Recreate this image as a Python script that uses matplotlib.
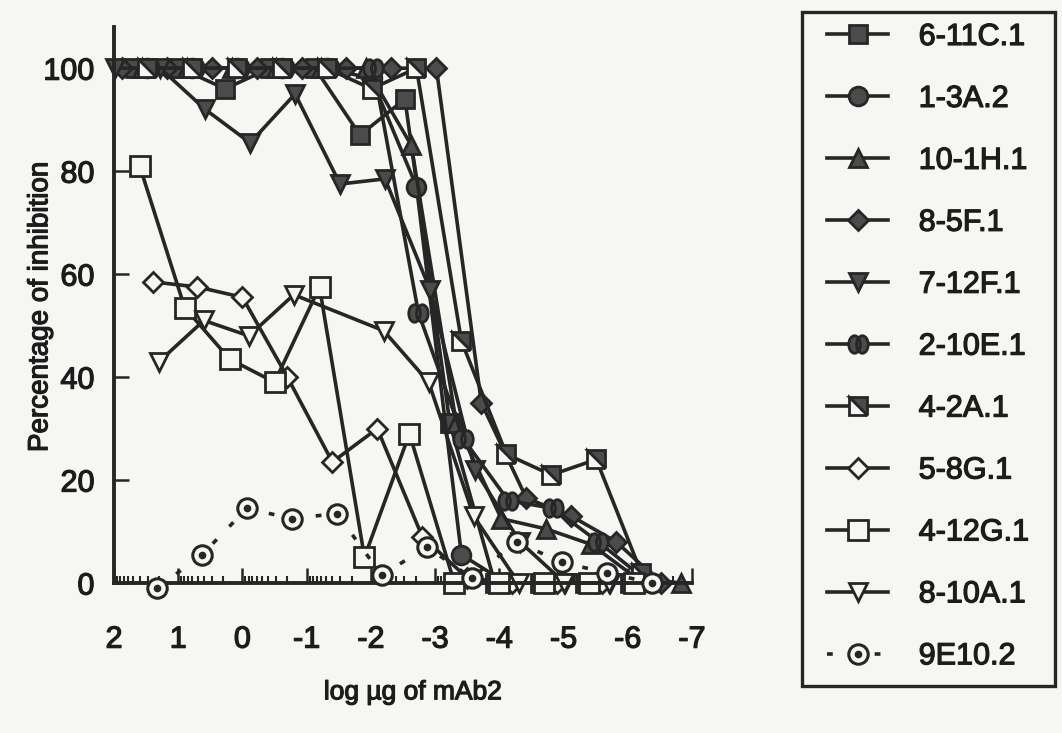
import numpy as np
import matplotlib
matplotlib.use("Agg")
import matplotlib.pyplot as plt
import matplotlib.patheffects as pe
from matplotlib.markers import MarkerStyle
from matplotlib.transforms import Affine2D
from matplotlib.path import Path
from matplotlib.patches import Rectangle
from matplotlib.legend_handler import HandlerTuple

plt.rcParams['font.family'] = ['Liberation Sans', 'DejaVu Sans']
plt.rcParams['axes.unicode_minus'] = False

# log ug of mAb2 (5-fold dilutions) and % inhibition for each clone
x_611c = [1.67, 0.97, 0.27, -0.43, -1.13, -1.83, -2.53, -3.23, -3.93, -4.63, -5.33, -6.03]
y_611c = [100, 100, 96, 100, 100, 87, 94, 31, 0, 0, 0, 0]

x_13a = [1.49, 0.79, 0.09, -0.61, -1.31, -2.01, -2.71, -3.41, -4.11, -4.81, -5.51, -6.21]
y_13a = [100, 100, 100, 100, 100, 98, 77, 5.5, 0, 0, 0, 0]

x_101h = [1.57, 0.87, 0.17, -0.53, -1.23, -1.93, -2.63, -3.33, -4.03, -4.73, -5.43, -6.13, -6.83]
y_101h = [100, 100, 100, 100, 100, 100, 85, 31, 12.5, 10.5, 7.5, 1, 0]

x_85f = [1.88, 1.18, 0.48, -0.22, -0.92, -1.62, -2.32, -3.02, -3.72, -4.42, -5.12, -5.82, -6.52]
y_85f = [100, 100, 100, 100, 100, 100, 100, 100, 35, 16.5, 13, 8, 0]

x_712f = [1.98, 1.28, 0.58, -0.12, -0.82, -1.52, -2.22, -2.92, -3.62, -4.32, -5.02, -5.72]
y_712f = [100, 100, 92, 85.5, 95, 77.5, 78.5, 57, 22, 8, 0, 0]

x_210e = [1.46, 0.76, 0.06, -0.64, -1.34, -2.04, -2.74, -3.44, -4.14, -4.84, -5.54, -6.24]
y_210e = [100, 100, 100, 100, 100, 100, 52.5, 28, 16, 14.5, 8, 1]

x_42a = [1.49, 0.79, 0.09, -0.61, -1.31, -2.01, -2.71, -3.41, -4.11, -4.81, -5.51, -6.21]
y_42a = [100, 100, 100, 100, 100, 96, 100, 47, 25, 21, 24, 2]

x_58g = [1.4, 0.7, 0.0, -0.7, -1.4, -2.1, -2.8, -3.5, -4.2, -4.9, -5.6]
y_58g = [58.5, 57.5, 55.5, 40, 23.5, 30, 9, 1, 0, 0, 0]

x_412g = [1.6, 0.9, 0.2, -0.5, -1.2, -1.9, -2.6, -3.3, -4.0, -4.7, -5.4, -6.1]
y_412g = [81, 53.5, 43.5, 39, 57.5, 5, 29, 0, 0, 0, 0, 0]

x_810a = [1.3, 0.6, -0.1, -0.8, -2.2, -2.9, -3.6, -4.3, -5.0, -5.7]
y_810a = [43, 51, 48, 56, 49, 39, 13, 0, 0, 0]

x_9e10 = [1.33, 0.63, -0.07, -0.77, -1.47, -2.17, -2.87, -3.57, -4.27, -4.97, -5.67, -6.37]
y_9e10 = [-1, 5.5, 14.5, 12.5, 13.5, 1.5, 7, 1, 8, 4, 2, 0]

x_ticks = [2, 1, 0, -1, -2, -3, -4, -5, -6, -7]
y_ticks = [0, 20, 40, 60, 80, 100]

bg = '#f6f6f3'
ink = '#262626'
fill = '#4b4b4b'
txt = '#1c1c1c'
# slightly heavier lettering
heavy = [pe.withStroke(linewidth=0.9, foreground=txt)]

# half-filled square: diamond half-fill turned back upright
half_square = MarkerStyle('D', fillstyle='right', transform=Affine2D().rotate_deg(45))
# two joined lobes
lobe = Path.unit_circle()
lobe_l = lobe.transformed(Affine2D().scale(0.3, 0.45).translate(-0.2, 0))
lobe_r = lobe.transformed(Affine2D().scale(0.3, 0.45).translate(0.2, 0))
double_lobe = Path.make_compound_path(lobe_l, lobe_r)

fig = plt.figure(figsize=(10.62, 7.33), dpi=100, facecolor=bg)
ax = fig.add_axes([114/1062, 1 - 583/733, 578/1062, 556/733])
ax.set_facecolor(bg)

lw = 2.6
common = dict(color=ink, lw=lw, mec=ink, mew=2.0, clip_on=False)
filled = dict(common, mfc=fill)
hollow = dict(common, mfc=bg)

series = [
    (x_611c, y_611c, '6-11C.1', dict(filled, marker='s', ms=13.5)),
    (x_13a, y_13a, '1-3A.2', dict(filled, marker='o', ms=13.5)),
    (x_101h, y_101h, '10-1H.1', dict(filled, marker='^', ms=13.5)),
    (x_85f, y_85f, '8-5F.1', dict(filled, marker='D', ms=10.5)),
    (x_712f, y_712f, '7-12F.1', dict(filled, marker='v', ms=13.5)),
    (x_210e, y_210e, '2-10E.1', dict(filled, marker=double_lobe, ms=14)),
    (x_42a, y_42a, '4-2A.1', dict(filled, marker=half_square, ms=13.5, mfcalt=bg)),
    (x_58g, y_58g, '5-8G.1', dict(hollow, marker='D', ms=10)),
    (x_412g, y_412g, '4-12G.1', dict(hollow, marker='s', ms=14)),
    (x_810a, y_810a, '8-10A.1', dict(hollow, marker='v', ms=13)),
]

handles = []
labels = []
for xs, ys, name, style in series:
    line, = ax.plot(xs, ys, **style)
    handles.append(line)
    labels.append(name)

# 9E10.2: dashed, ringed circle with a centre dot
ring, = ax.plot(x_9e10, y_9e10, color=ink, lw=lw, ls=(0, (1.6, 5)), marker='o', ms=14,
                mfc=bg, mec=ink, mew=2.2, clip_on=False, zorder=3)
dot, = ax.plot(x_9e10, y_9e10, ls='none', marker='o', ms=4.5, mfc=ink, mec=ink,
               clip_on=False, zorder=3.1)
handles.append((ring, dot))
labels.append('9E10.2')

ax.set_xlim(2, -7)
ax.set_ylim(0, 108)
ax.set_xticks(x_ticks)
ax.set_yticks(y_ticks)
minor = [n + np.log10(k) for n in range(-7, 2) for k in range(2, 10)]
ax.set_xticks(minor, minor=True)

for side in ['top', 'right']:
    ax.spines[side].set_visible(False)
for side in ['left', 'bottom']:
    ax.spines[side].set_linewidth(2.8)
    ax.spines[side].set_color(ink)

ax.tick_params(axis='both', which='major', direction='in', length=11, width=1.8,
               color=ink, labelsize=22, labelcolor=txt)
ax.tick_params(axis='x', which='major', pad=30)
ax.tick_params(axis='y', which='major', pad=14)
ax.tick_params(axis='x', which='minor', direction='in', length=5, width=1.5, color=ink)
for t in ax.get_xticklabels() + ax.get_yticklabels():
    t.set_path_effects(heavy)

ax.set_ylabel('Percentage of inhibition', fontsize=20, color=txt, path_effects=heavy)
ax.yaxis.set_label_coords(-0.105, 0.496)
ax.set_xlabel('log µg of mAb2', fontsize=19, color=txt, va='top', path_effects=heavy)
ax.xaxis.set_label_coords(0.517, -0.175)

leg = fig.legend(handles, labels, loc='upper left',
                 bbox_to_anchor=(827/1062, 1 - 22/733), bbox_transform=fig.transFigure,
                 borderaxespad=0, borderpad=0, fontsize=22, frameon=False,
                 handlelength=2.0, handletextpad=1.0, labelspacing=1.045,
                 handler_map={tuple: HandlerTuple(ndivide=1)})
for t in leg.get_texts():
    t.set_color(txt)
    t.set_path_effects(heavy)

# box around the key
fig.add_artist(Rectangle((802/1062, 1 - 686/733), 253/1062, 674/733,
                         transform=fig.transFigure, fill=False, ec=ink, lw=2.4))

fig.savefig('out.png', dpi=100, facecolor=bg)
